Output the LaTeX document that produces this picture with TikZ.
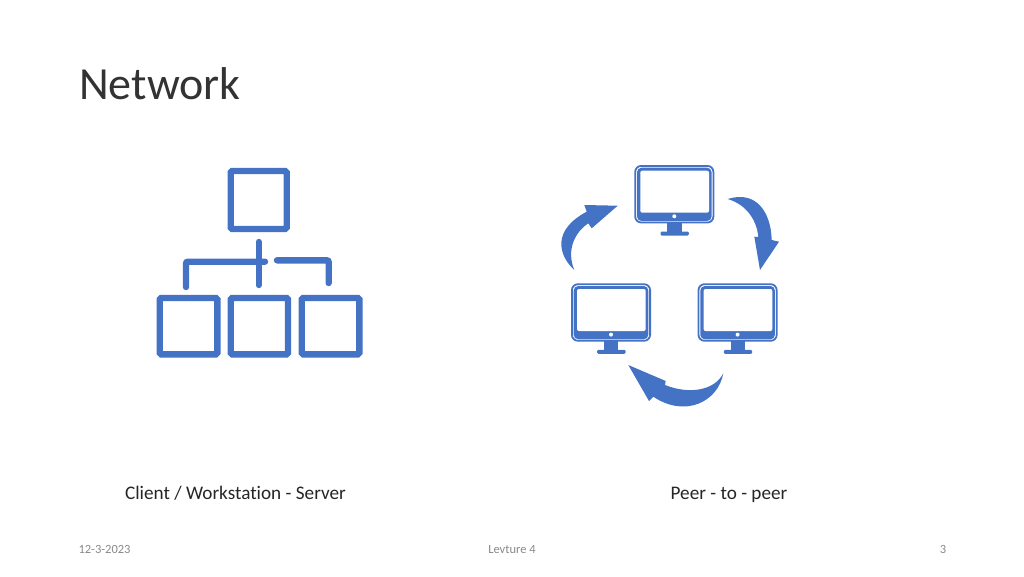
\documentclass[tikz,border=0pt]{standalone}
\usepackage{fontspec}
\setmainfont[Ligatures=NoCommon]{Carlito}
\usepackage{tikz}
\definecolor{iconblue}{HTML}{4472C4}
\definecolor{footgray}{HTML}{898989}
\tikzset{
	boxicon/.style={draw=iconblue,line width=6.4pt,rounded corners=1.5pt},
	wire/.style={draw=iconblue,line width=6.4pt,line cap=round,rounded corners=2pt},
	arrowicon/.style={fill=iconblue,draw=none},
	footer/.style={text=footgray,font=\fontsize{12.5pt}{14pt}\selectfont,anchor=base,inner sep=0pt},
	caption/.style={text=black!85,font=\fontsize{19.2pt}{22pt}\selectfont,anchor=base,inner sep=0pt},
	monitor/.pic={
		\draw[iconblue,line width=1.8pt,rounded corners=6pt] (-39.1,-28.3) rectangle (39.1,28.3);
		\fill[iconblue,rounded corners=4.5pt] (-37.3,-26.5) rectangle (37.3,26.8);
		\fill[white,rounded corners=2pt] (-34,-23.5) rectangle (34.7,18.5);
		\fill[white] (0,22.1) circle (2pt);
		\fill[iconblue] (-7,28) rectangle (7.4,38);
		\fill[iconblue,rounded corners=1.2pt] (-13.8,37.3) rectangle (14.6,41.3);
	}
}
\begin{document}
\begin{tikzpicture}[x=1pt,y=-1pt]
	\useasboundingbox (0,0) rectangle (1024,576);
	\node[anchor=base west,inner sep=0pt,text=black!80,font=\fontsize{46pt}{52pt}\selectfont] (title) at (79,99) {Network};

	% tree on the left
	\draw[boxicon] (230.7,171) rectangle (286.7,229);
	\draw[boxicon] (159.7,298) rectangle (217.3,354.3);
	\draw[boxicon] (230.7,298) rectangle (288,354.3);
	\draw[boxicon] (301.7,298) rectangle (359.3,354.3);
	\draw[wire] (258.7,242) -- (258.7,285);
	\draw[wire] (186,287) -- (186,261.7) -- (265,261.7);
	\draw[wire] (277,260.3) -- (328.7,260.3) -- (328.7,283);

	% ring on the right
	\pic (pctop) at (674.3,194.2) {monitor};
	\pic (pcleft) at (611,312.5) {monitor};
	\pic (pcright) at (737.6,312.5) {monitor};
	\fill[arrowicon] (574.3,270) .. controls (558,255) and (552,230) .. (586.7,211.7) -- (584.3,205) -- (617.7,205.7) -- (591.7,228.3) -- (588.3,223.3) .. controls (575,232) and (566,250) .. (574.3,270) -- cycle;
	\fill[arrowicon] (727.7,199) .. controls (756,190) and (771,212) .. (771.7,240) -- (779,241.7) -- (760,270) -- (754.3,236.7) -- (758.3,237) .. controls (757,222) and (748,205) .. (727.7,199) -- cycle;
	\fill[arrowicon] (723.3,373.3) .. controls (718,402) and (685,418) .. (653.3,396.7) -- (649,401) -- (628.3,365) -- (665.7,381) -- (665,385) .. controls (690,395) and (715,390) .. (723.3,373.3) -- cycle;

	\node[caption] (clientlabel) at (235.5,499) {Client / Workstation - Server};
	\node[caption] (peerlabel) at (729,499) {Peer - to - peer};
	\node[footer] (datelabel) at (104.5,553) {12-3-2023};
	\node[footer] (lecturelabel) at (512,553) {Levture 4};
	\node[footer] (pagelabel) at (943,553) {3};
\end{tikzpicture}
\end{document}
